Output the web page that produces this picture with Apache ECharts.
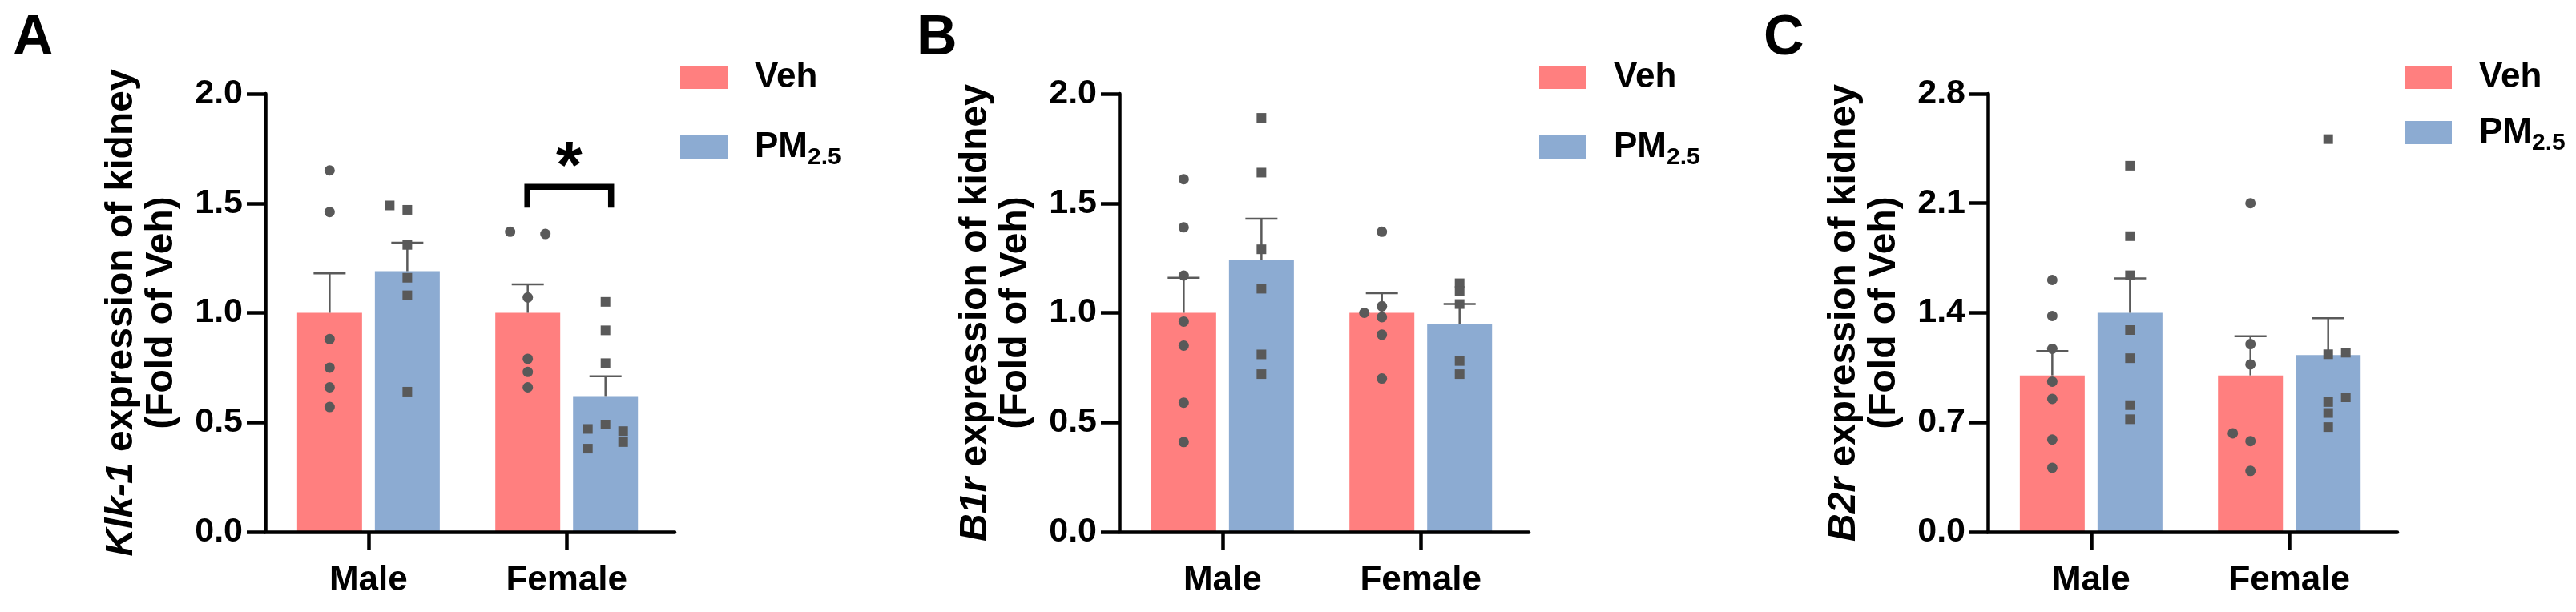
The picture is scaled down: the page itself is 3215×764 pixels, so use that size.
<!DOCTYPE html>
<html>
<head>
<meta charset="utf-8">
<title>Klk-1 / B1r / B2r expression of kidney</title>
<script src="https://cdn.jsdelivr.net/npm/echarts@6/dist/echarts.min.js"></script>
<style>
    html, body { margin: 0; padding: 0; background: #fff; }
    #chart { width: 3215px; height: 764px; }
</style>
</head>
<body>
<div id="chart"></div>
<script>
// 分组
var categories = ['Male', 'Female'];
var groupNames = ['Veh', 'PM2.5'];
var panelLetters = ['A', 'B', 'C'];

// y 轴刻度
var yMax = [2.0, 2.0, 2.8];
var yStep = [0.5, 0.5, 0.7];

// A: Klk-1   (点: [分组, 数值, 抖动列])
var klkVehMean = [1.00, 1.00];
var klkVehSem = [0.18, 0.13];
var klkPmMean = [1.19, 0.62];
var klkPmSem = [0.13, 0.09];
var klkVehPts = [[0, 1.65, 0], [0, 1.46, 0], [0, 0.88, 0], [0, 0.75, 0], [0, 0.66, 0], [0, 0.57, 0],
    [1, 1.37, -1], [1, 1.36, 1], [1, 1.07, 0], [1, 0.79, 0], [1, 0.73, 0], [1, 0.66, 0]];
var klkPmPts = [[0, 1.49, -1], [0, 1.47, 0], [0, 1.31, 0], [0, 1.16, 0], [0, 1.08, 0], [0, 0.64, 0],
    [1, 1.05, 0], [1, 0.92, 0], [1, 0.77, 0], [1, 0.49, 0], [1, 0.47, -1], [1, 0.46, 1], [1, 0.41, 1], [1, 0.38, -1]];

// B: B1r
var b1rVehMean = [1.00, 1.00];
var b1rVehSem = [0.16, 0.09];
var b1rPmMean = [1.24, 0.95];
var b1rPmSem = [0.19, 0.09];
var b1rVehPts = [[0, 1.61, 0], [0, 1.39, 0], [0, 1.17, 0], [0, 0.96, 0], [0, 0.85, 0], [0, 0.59, 0], [0, 0.41, 0],
    [1, 1.37, 0], [1, 1.00, -1], [1, 1.03, 0], [1, 0.98, 0], [1, 0.90, 0], [1, 0.70, 0]];
var b1rPmPts = [[0, 1.89, 0], [0, 1.64, 0], [0, 1.29, 0], [0, 1.11, 0], [0, 0.81, 0], [0, 0.72, 0],
    [1, 1.135, 0], [1, 1.10, 0], [1, 1.04, 0], [1, 0.78, 0], [1, 0.72, 0]];

// C: B2r
var b2rVehMean = [1.00, 1.00];
var b2rVehSem = [0.155, 0.25];
var b2rPmMean = [1.40, 1.13];
var b2rPmSem = [0.22, 0.235];
var b2rVehPts = [[0, 1.61, 0], [0, 1.38, 0], [0, 1.17, 0], [0, 0.96, 0], [0, 0.85, 0], [0, 0.59, 0], [0, 0.41, 0],
    [1, 2.10, 0], [1, 1.20, 0], [1, 1.07, 0], [1, 0.63, -1], [1, 0.58, 0], [1, 0.39, 0]];
var b2rPmPts = [[0, 2.34, 0], [0, 1.89, 0], [0, 1.64, 0], [0, 1.29, 0], [0, 1.11, 0], [0, 0.81, 0], [0, 0.72, 0],
    [1, 2.51, 0], [1, 1.135, 0], [1, 1.145, 1], [1, 0.86, 1], [1, 0.83, 0], [1, 0.76, 0], [1, 0.67, 0]];

// 显著性标记 (A, Female): [分组, 横线, 竖线底, 星号]
var sigMark = [[1, 1.575, 1.48, 1.72]];

var FONT = '"Liberation Sans", Arial, Helvetica, sans-serif';
var VEH_COLOR = '#ff7f7f';
var PM_COLOR = '#8cabd2';
var DOT_COLOR = '#595959';
var ERR_COLOR = '#5a5a5a';
var BAR_W = 81, BAR_OFF = 48.5, JIT = 22, CAP_W = 40;

var panels = [
    {vm: klkVehMean, vs: klkVehSem, pm: klkPmMean, ps: klkPmSem, vp: klkVehPts, pp: klkPmPts,
        title: '{i|Klk-1} expression of kidney\n(Fold of Veh)', left: 331, legendLeft: 849, legendGap: 31, letterLeft: 16},
    {vm: b1rVehMean, vs: b1rVehSem, pm: b1rPmMean, ps: b1rPmSem, vp: b1rVehPts, pp: b1rPmPts,
        title: '{i|B1r} expression of kidney\n(Fold of Veh)', left: 1397, legendLeft: 1921, legendGap: 31, letterLeft: 1144},
    {vm: b2rVehMean, vs: b2rVehSem, pm: b2rPmMean, ps: b2rPmSem, vp: b2rVehPts, pp: b2rPmPts,
        title: '{i|B2r} expression of kidney\n(Fold of Veh)', left: 2481, legendLeft: 3001, legendGap: 13, letterLeft: 2201}
];

//柱子
function barRender(offset, color) {
    return function (params, api) {
        var x = api.value(0);
        var p0 = api.coord([x, 0]);
        var p1 = api.coord([x, api.value(1)]);
        return {
            type: 'rect',
            shape: {x: p0[0] + offset - BAR_W / 2, y: p1[1], width: BAR_W, height: p0[1] - p1[1]},
            style: {fill: color}
        };
    };
}

//误差线 (只画上半)
function errRender(offset) {
    return function (params, api) {
        var x = api.value(0), m = api.value(1), s = api.value(2);
        var p0 = api.coord([x, m]);
        var p1 = api.coord([x, m + s]);
        var cx = p0[0] + offset;
        var st = {stroke: ERR_COLOR, lineWidth: 2.5};
        return {
            type: 'group',
            children: [
                {type: 'line', shape: {x1: cx, y1: p0[1], x2: cx, y2: p1[1]}, style: st},
                {type: 'line', shape: {x1: cx - CAP_W / 2, y1: p1[1], x2: cx + CAP_W / 2, y2: p1[1]}, style: st}
            ]
        };
    };
}

//散点
function dotRender(offset, square) {
    return function (params, api) {
        var p = api.coord([api.value(0), api.value(1)]);
        var cx = p[0] + offset + api.value(2) * JIT;
        if (square) {
            return {type: 'rect', shape: {x: cx - 6, y: p[1] - 6, width: 12, height: 12}, style: {fill: DOT_COLOR}};
        }
        return {type: 'circle', shape: {cx: cx, cy: p[1], r: 6.5}, style: {fill: DOT_COLOR}};
    };
}

//显著性括号
function sigRender(params, api) {
    var x = api.value(0);
    var top = api.coord([x, api.value(1)]);
    var leg = api.coord([x, api.value(2)]);
    var star = api.coord([x, api.value(3)]);
    var x1 = top[0] - BAR_OFF - 0.5, x2 = top[0] + BAR_OFF + 7;
    return {
        type: 'group',
        children: [
            {type: 'polyline', shape: {points: [[x1, leg[1]], [x1, top[1]], [x2, top[1]], [x2, leg[1]]]},
                style: {stroke: '#000', lineWidth: 7.5, fill: null, lineJoin: 'miter', lineCap: 'butt'}},
            {type: 'text', style: {text: '*', x: (x1 + x2) / 2, y: star[1] + 18, fill: '#000',
                font: 'bold 84px ' + FONT, align: 'center', verticalAlign: 'middle'}}
        ]
    };
}

function pairs(mean, sem) {
    return mean.map(function (v, i) { return [i, v, sem[i]]; });
}

var grid = [], xAxis = [], yAxis = [], legend = [], title = [], series = [];

panels.forEach(function (p, k) {
    grid.push({left: p.left, top: 117, width: 511, height: 547});
    xAxis.push({
        type: 'value', gridIndex: k, min: -0.521, max: 1.545, z: 5,
        axisLine: {onZero: false, lineStyle: {color: '#000', width: 4.5}},
        axisTick: {customValues: [0, 1], length: 23, lineStyle: {color: '#000', width: 4.5}},
        axisLabel: {
            customValues: [0, 1], margin: 39, color: '#000',
            fontFamily: FONT, fontWeight: 'bold', fontSize: 44,
            formatter: function (v) { return categories[Math.round(v)]; }
        },
        splitLine: {show: false}
    });
    yAxis.push({
        type: 'value', gridIndex: k, min: 0, max: yMax[k], interval: yStep[k], z: 5,
        name: p.title, nameLocation: 'middle', nameRotate: 90, nameGap: 104,
        nameTextStyle: {
            color: '#000', fontFamily: FONT, fontWeight: 'bold', fontSize: 48, lineHeight: 50,
            rich: {i: {fontStyle: 'italic', fontWeight: 'bold', fontFamily: FONT, fontSize: 48, lineHeight: 50, color: '#000'}}
        },
        axisLine: {show: true, onZero: false, lineStyle: {color: '#000', width: 4.5}},
        axisTick: {show: true, length: 23, lineStyle: {color: '#000', width: 4.5}},
        axisLabel: {
            margin: 28, color: '#000', fontFamily: FONT, fontWeight: 'bold', fontSize: 43,
            formatter: function (v) { return v.toFixed(1); }
        },
        splitLine: {show: false}
    });
    legend.push({
        orient: 'vertical', left: p.legendLeft, top: 68.5, padding: 0,
        itemWidth: 59, itemHeight: 29, itemGap: p.legendGap, icon: 'rect', selectedMode: false,
        data: [
            {name: 'Veh', itemStyle: {color: VEH_COLOR}},
            {name: 'PM2.5', itemStyle: {color: PM_COLOR}}
        ],
        formatter: function (name) { return name === 'PM2.5' ? 'PM{sub|2.5}' : name; },
        textStyle: {
            color: '#000', fontFamily: FONT, fontWeight: 'bold', fontSize: 44, lineHeight: 56,
            padding: [0, 0, 0, 29],
            rich: {sub: {fontSize: 30, lineHeight: 28, verticalAlign: 'bottom', fontWeight: 'bold', fontFamily: FONT, color: '#000'}}
        }
    });
    title.push({
        text: panelLetters[k], left: p.letterLeft, top: 14, padding: 0,
        textStyle: {color: '#000', fontFamily: FONT, fontWeight: 'bold', fontSize: 70}
    });

    var ax = {xAxisIndex: k, yAxisIndex: k};
    series.push(Object.assign({type: 'custom', name: groupNames[0], itemStyle: {color: VEH_COLOR},
        renderItem: barRender(-BAR_OFF, VEH_COLOR), encode: {x: 0, y: 1}, data: pairs(p.vm, p.vs), z: 2}, ax));
    series.push(Object.assign({type: 'custom', name: groupNames[1], itemStyle: {color: PM_COLOR},
        renderItem: barRender(BAR_OFF, PM_COLOR), encode: {x: 0, y: 1}, data: pairs(p.pm, p.ps), z: 2}, ax));
    series.push(Object.assign({type: 'custom', name: groupNames[0], itemStyle: {color: VEH_COLOR},
        renderItem: errRender(-BAR_OFF), encode: {x: 0, y: 1}, data: pairs(p.vm, p.vs), z: 3}, ax));
    series.push(Object.assign({type: 'custom', name: groupNames[1], itemStyle: {color: PM_COLOR},
        renderItem: errRender(BAR_OFF), encode: {x: 0, y: 1}, data: pairs(p.pm, p.ps), z: 3}, ax));
    series.push(Object.assign({type: 'custom', name: groupNames[0], itemStyle: {color: VEH_COLOR},
        renderItem: dotRender(-BAR_OFF, false), encode: {x: 0, y: 1}, data: p.vp, z: 4}, ax));
    series.push(Object.assign({type: 'custom', name: groupNames[1], itemStyle: {color: PM_COLOR},
        renderItem: dotRender(BAR_OFF, true), encode: {x: 0, y: 1}, data: p.pp, z: 4}, ax));
});

series.push({type: 'custom', xAxisIndex: 0, yAxisIndex: 0, renderItem: sigRender,
    encode: {x: 0, y: 1}, data: sigMark, z: 4, silent: true});

var chart = echarts.init(document.getElementById('chart'));
chart.setOption({
    backgroundColor: '#fff',
    animation: false,
    title: title,
    legend: legend,
    grid: grid,
    xAxis: xAxis,
    yAxis: yAxis,
    series: series
});

window.addEventListener('resize', function () {
    chart.resize();
});
</script>
</body>
</html>
